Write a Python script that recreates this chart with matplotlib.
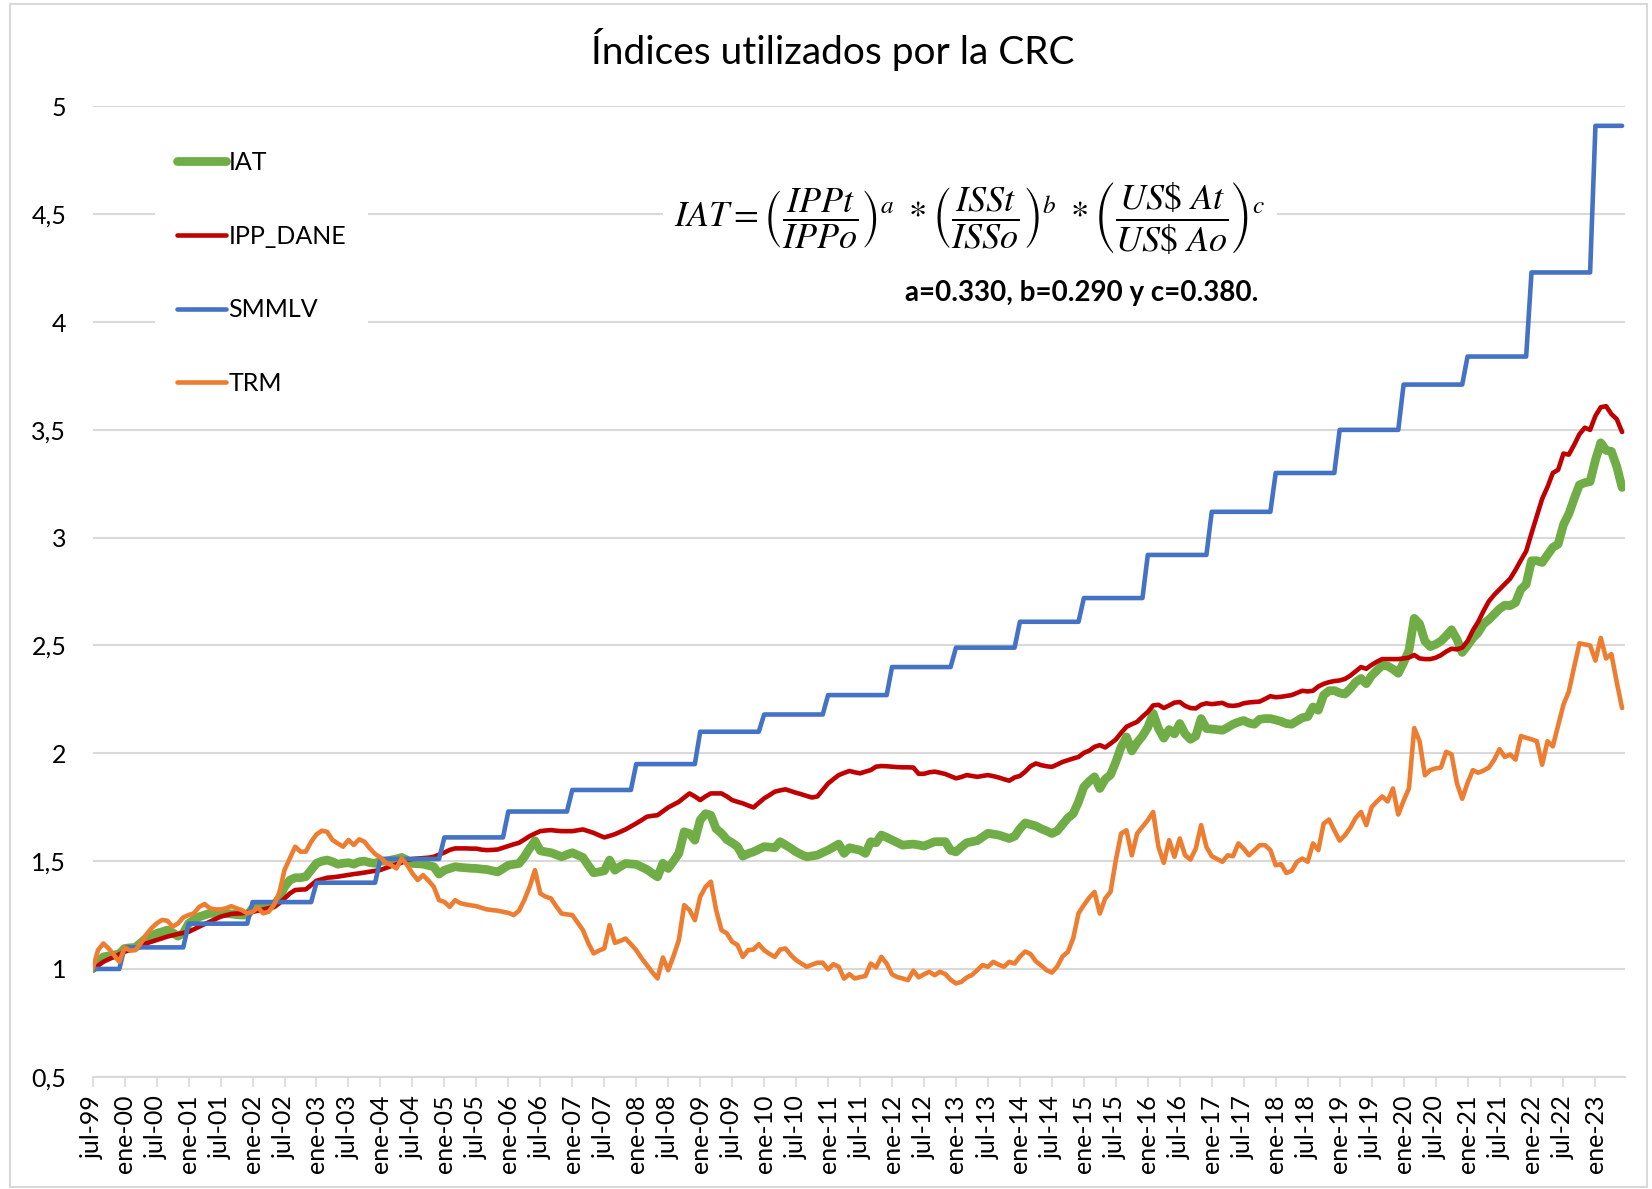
import numpy as np
import matplotlib.pyplot as plt
from matplotlib.patches import Rectangle
from matplotlib.ticker import FuncFormatter

plt.rcParams['font.family'] = ['Lato', 'DejaVu Sans']
plt.rcParams['mathtext.fontset'] = 'stix'

# Monthly indices, jul-99 .. jun-23 (base jul-99 = 1), one row = 12 months
iat = [
    1.000, 1.030, 1.056, 1.060, 1.064, 1.070, 1.095, 1.098, 1.100, 1.120, 1.142, 1.154,
    1.165, 1.172, 1.180, 1.168, 1.152, 1.165, 1.211, 1.228, 1.242, 1.250, 1.258, 1.258,
    1.258, 1.257, 1.255, 1.252, 1.250, 1.250, 1.281, 1.281, 1.281, 1.288, 1.296, 1.327,
    1.381, 1.412, 1.423, 1.423, 1.428, 1.459, 1.490, 1.500, 1.505, 1.497, 1.486, 1.490,
    1.493, 1.486, 1.497, 1.500, 1.493, 1.490, 1.500, 1.500, 1.505, 1.510, 1.517, 1.505,
    1.489, 1.488, 1.486, 1.480, 1.474, 1.440, 1.458, 1.466, 1.474, 1.471, 1.469, 1.467,
    1.466, 1.463, 1.461, 1.455, 1.450, 1.465, 1.481, 1.485, 1.489, 1.520, 1.559, 1.594,
    1.548, 1.543, 1.539, 1.530, 1.520, 1.530, 1.539, 1.528, 1.517, 1.480, 1.446, 1.450,
    1.455, 1.505, 1.458, 1.475, 1.489, 1.487, 1.485, 1.473, 1.461, 1.444, 1.427, 1.490,
    1.466, 1.500, 1.536, 1.636, 1.628, 1.597, 1.690, 1.720, 1.713, 1.650, 1.629, 1.600,
    1.585, 1.567, 1.523, 1.535, 1.543, 1.555, 1.567, 1.565, 1.562, 1.590, 1.575, 1.560,
    1.543, 1.530, 1.520, 1.524, 1.528, 1.540, 1.551, 1.565, 1.579, 1.536, 1.562, 1.556,
    1.551, 1.536, 1.590, 1.585, 1.621, 1.610, 1.598, 1.586, 1.574, 1.577, 1.579, 1.575,
    1.570, 1.580, 1.590, 1.590, 1.590, 1.550, 1.543, 1.565, 1.585, 1.590, 1.595, 1.612,
    1.629, 1.625, 1.621, 1.613, 1.605, 1.615, 1.650, 1.677, 1.670, 1.663, 1.650, 1.640,
    1.628, 1.640, 1.670, 1.700, 1.720, 1.775, 1.844, 1.870, 1.891, 1.837, 1.880, 1.900,
    1.960, 2.030, 2.076, 2.011, 2.050, 2.080, 2.120, 2.185, 2.115, 2.070, 2.110, 2.090,
    2.138, 2.090, 2.065, 2.080, 2.161, 2.115, 2.113, 2.110, 2.107, 2.120, 2.135, 2.145,
    2.152, 2.140, 2.135, 2.158, 2.161, 2.161, 2.155, 2.148, 2.138, 2.135, 2.150, 2.165,
    2.170, 2.215, 2.200, 2.270, 2.290, 2.291, 2.280, 2.275, 2.300, 2.330, 2.347, 2.323,
    2.360, 2.385, 2.408, 2.405, 2.390, 2.371, 2.420, 2.476, 2.626, 2.600, 2.520, 2.495,
    2.505, 2.520, 2.545, 2.573, 2.529, 2.468, 2.500, 2.535, 2.560, 2.600, 2.620, 2.645,
    2.670, 2.687, 2.685, 2.699, 2.760, 2.784, 2.893, 2.893, 2.885, 2.920, 2.955, 2.970,
    3.060, 3.110, 3.180, 3.245, 3.255, 3.260, 3.360, 3.440, 3.405, 3.400, 3.330, 3.233,
]

ipp_dane = [
    1.000, 1.015, 1.033, 1.045, 1.056, 1.068, 1.080, 1.088, 1.095, 1.107, 1.118, 1.126,
    1.134, 1.142, 1.150, 1.156, 1.162, 1.167, 1.172, 1.184, 1.196, 1.208, 1.219, 1.231,
    1.242, 1.249, 1.255, 1.257, 1.258, 1.262, 1.265, 1.270, 1.276, 1.282, 1.288, 1.304,
    1.327, 1.350, 1.366, 1.368, 1.369, 1.389, 1.409, 1.416, 1.423, 1.425, 1.428, 1.432,
    1.436, 1.440, 1.443, 1.447, 1.451, 1.455, 1.459, 1.468, 1.477, 1.485, 1.493, 1.505,
    1.510, 1.512, 1.514, 1.516, 1.520, 1.530, 1.540, 1.552, 1.559, 1.559, 1.559, 1.558,
    1.558, 1.553, 1.551, 1.552, 1.554, 1.562, 1.570, 1.578, 1.585, 1.600, 1.616, 1.628,
    1.639, 1.642, 1.644, 1.641, 1.639, 1.639, 1.639, 1.643, 1.647, 1.639, 1.631, 1.620,
    1.610, 1.617, 1.625, 1.636, 1.647, 1.661, 1.675, 1.690, 1.706, 1.710, 1.713, 1.731,
    1.749, 1.762, 1.775, 1.795, 1.814, 1.800, 1.783, 1.800, 1.814, 1.814, 1.814, 1.800,
    1.783, 1.775, 1.768, 1.758, 1.749, 1.770, 1.791, 1.806, 1.822, 1.828, 1.833, 1.825,
    1.817, 1.810, 1.802, 1.795, 1.800, 1.830, 1.860, 1.880, 1.899, 1.909, 1.918, 1.912,
    1.907, 1.915, 1.922, 1.938, 1.941, 1.940, 1.938, 1.936, 1.935, 1.935, 1.934, 1.905,
    1.905, 1.912, 1.915, 1.910, 1.904, 1.894, 1.884, 1.890, 1.899, 1.895, 1.891, 1.895,
    1.899, 1.894, 1.888, 1.880, 1.873, 1.888, 1.895, 1.915, 1.940, 1.953, 1.945, 1.940,
    1.937, 1.948, 1.960, 1.968, 1.976, 1.983, 2.002, 2.012, 2.030, 2.038, 2.027, 2.045,
    2.064, 2.095, 2.123, 2.135, 2.146, 2.170, 2.192, 2.222, 2.225, 2.210, 2.222, 2.235,
    2.238, 2.220, 2.210, 2.208, 2.225, 2.232, 2.228, 2.231, 2.234, 2.222, 2.220, 2.223,
    2.232, 2.236, 2.238, 2.240, 2.252, 2.265, 2.260, 2.262, 2.266, 2.270, 2.280, 2.290,
    2.287, 2.290, 2.310, 2.322, 2.330, 2.335, 2.338, 2.345, 2.360, 2.380, 2.400, 2.392,
    2.410, 2.425, 2.437, 2.437, 2.437, 2.437, 2.440, 2.444, 2.456, 2.440, 2.437, 2.437,
    2.443, 2.455, 2.472, 2.485, 2.482, 2.490, 2.520, 2.570, 2.610, 2.660, 2.705, 2.735,
    2.760, 2.785, 2.810, 2.850, 2.895, 2.937, 3.020, 3.100, 3.180, 3.235, 3.300, 3.315,
    3.390, 3.385, 3.430, 3.480, 3.510, 3.500, 3.565, 3.605, 3.610, 3.573, 3.550, 3.490,
]

trm = [
    1.000, 1.087, 1.118, 1.095, 1.064, 1.033, 1.100, 1.085, 1.087, 1.118, 1.157, 1.188,
    1.211, 1.227, 1.224, 1.196, 1.211, 1.239, 1.250, 1.258, 1.288, 1.301, 1.281, 1.276,
    1.276, 1.281, 1.291, 1.281, 1.273, 1.258, 1.265, 1.285, 1.258, 1.265, 1.296, 1.350,
    1.459, 1.513, 1.567, 1.544, 1.544, 1.590, 1.624, 1.641, 1.636, 1.598, 1.582, 1.567,
    1.598, 1.575, 1.601, 1.590, 1.559, 1.533, 1.517, 1.493, 1.482, 1.466, 1.513, 1.482,
    1.443, 1.412, 1.435, 1.410, 1.381, 1.319, 1.311, 1.288, 1.319, 1.305, 1.299, 1.295,
    1.291, 1.283, 1.276, 1.273, 1.270, 1.265, 1.260, 1.250, 1.270, 1.320, 1.381, 1.458,
    1.350, 1.335, 1.327, 1.290, 1.257, 1.253, 1.250, 1.215, 1.180, 1.120, 1.072, 1.085,
    1.095, 1.203, 1.121, 1.130, 1.141, 1.115, 1.087, 1.050, 1.018, 0.985, 0.956, 1.053,
    0.994, 1.060, 1.134, 1.296, 1.273, 1.226, 1.335, 1.380, 1.405, 1.273, 1.180, 1.165,
    1.126, 1.111, 1.056, 1.087, 1.090, 1.115, 1.087, 1.070, 1.056, 1.090, 1.095, 1.065,
    1.041, 1.025, 1.010, 1.020, 1.029, 1.029, 0.998, 1.022, 1.010, 0.955, 0.976, 0.956,
    0.962, 0.967, 1.025, 1.007, 1.056, 1.025, 0.975, 0.962, 0.956, 0.948, 0.992, 0.961,
    0.975, 0.987, 0.971, 0.987, 0.976, 0.950, 0.933, 0.940, 0.960, 0.972, 0.995, 1.018,
    1.010, 1.033, 1.020, 1.010, 1.033, 1.025, 1.057, 1.081, 1.069, 1.035, 1.016, 0.994,
    0.983, 1.011, 1.058, 1.079, 1.142, 1.258, 1.296, 1.330, 1.357, 1.257, 1.327, 1.357,
    1.504, 1.628, 1.643, 1.527, 1.628, 1.659, 1.690, 1.728, 1.566, 1.492, 1.597, 1.520,
    1.605, 1.527, 1.507, 1.558, 1.667, 1.566, 1.523, 1.510, 1.497, 1.527, 1.523, 1.582,
    1.558, 1.527, 1.550, 1.574, 1.574, 1.551, 1.481, 1.486, 1.445, 1.455, 1.497, 1.512,
    1.497, 1.582, 1.551, 1.674, 1.693, 1.643, 1.595, 1.620, 1.655, 1.700, 1.728, 1.667,
    1.750, 1.777, 1.800, 1.777, 1.837, 1.716, 1.780, 1.837, 2.117, 2.056, 1.898, 1.922,
    1.930, 1.934, 2.007, 1.995, 1.862, 1.789, 1.862, 1.922, 1.910, 1.920, 1.934, 1.970,
    2.019, 1.983, 1.995, 1.971, 2.080, 2.072, 2.065, 2.056, 1.947, 2.056, 2.032, 2.129,
    2.226, 2.286, 2.400, 2.510, 2.505, 2.500, 2.430, 2.535, 2.440, 2.460, 2.330, 2.210,
]

# minimum wage changes every January: one value per year (1999..2023)
smmlv_anual = [1.00, 1.10, 1.21, 1.31, 1.40, 1.51, 1.61, 1.73, 1.83, 1.95, 2.10, 2.18, 2.27,
               2.40, 2.49, 2.61, 2.72, 2.92, 3.12, 3.30, 3.50, 3.71, 3.84, 4.23, 4.91]
meses_por_anio = [6] + [12] * 23 + [6]
smmlv = np.repeat(smmlv_anual, meses_por_anio)

assert len(iat) == len(ipp_dane) == len(trm) == len(smmlv)

n = len(iat)
x = np.arange(n)

# x labels every 6 months, starting jul-99
tick_pos = np.arange(0, n, 6)
tick_lab = []
for k in tick_pos:
    year = 1999 + (6 + k) // 12
    mes = "jul" if k % 12 == 0 else "ene"
    tick_lab.append(f"{mes}-{year % 100:02d}")

fig = plt.figure(figsize=(16.52, 11.89), dpi=100)
ax = fig.add_axes([0.0561, 0.0944, 0.9274, 0.8161])

kw = dict(solid_capstyle="round", solid_joinstyle="round")
ax.plot(x, iat, color="#70AD47", lw=6.3, label="IAT", **kw)
ax.plot(x, ipp_dane, color="#C00000", lw=3.3, label="IPP_DANE", **kw)
ax.plot(x, smmlv, color="#4472C4", lw=3.3, label="SMMLV", **kw)
ax.plot(x, trm, color="#ED7D31", lw=3.3, label="TRM", **kw)

ax.set_xlim(0, 287.5)
ax.set_ylim(0.5, 5)
ax.set_yticks(np.arange(0.5, 5.01, 0.5))
ax.yaxis.set_major_formatter(FuncFormatter(lambda v, p: f"{v:g}".replace(".", ",")))
ax.grid(axis="y", color="#d9d9d9", lw=1.5)
ax.set_axisbelow(True)
for s in ["left", "right", "top"]:
    ax.spines[s].set_visible(False)
ax.spines["bottom"].set_color("#d9d9d9")
ax.spines["bottom"].set_linewidth(1.5)

ax.set_xticks(tick_pos, tick_lab, rotation=90)
ax.tick_params(axis="y", length=0, pad=19, labelsize=18)
ax.tick_params(axis="x", length=7, width=1.2, color="#d9d9d9", pad=6, labelsize=18)

leg = ax.legend(loc="upper left", bbox_to_anchor=(0.086, 0.9025), bbox_transform=fig.transFigure,
                frameon=True, fancybox=False, facecolor="white", edgecolor="none", framealpha=1,
                fontsize=18, handlelength=1.95, handletextpad=0.1, labelspacing=2.03, borderpad=0.9)

fig.text(0.504, 0.958, "Índices utilizados por la CRC", ha="center", va="center", fontsize=28)

formula = (r"$IAT=\left(\dfrac{IPPt}{IPPo}\right)^{a}\ *\left(\dfrac{ISSt}{ISSo}\right)^{b}"
           r"\ *\left(\dfrac{US\$\ At}{US\$\ Ao}\right)^{c}$")
fig.text(0.587, 0.817, formula, ha="center", va="center", fontsize=26,
         bbox=dict(facecolor="white", edgecolor="none", pad=8))
fig.text(0.655, 0.7536, "a=0.330, b=0.290 y c=0.380.", ha="center", va="center",
         fontsize=20, fontweight="bold")

fig.add_artist(Rectangle((0.006, 0.002), 0.991, 0.995, transform=fig.transFigure,
                         fill=False, edgecolor="#d9d9d9", lw=1.5))

fig.savefig("out.png", dpi=100)
